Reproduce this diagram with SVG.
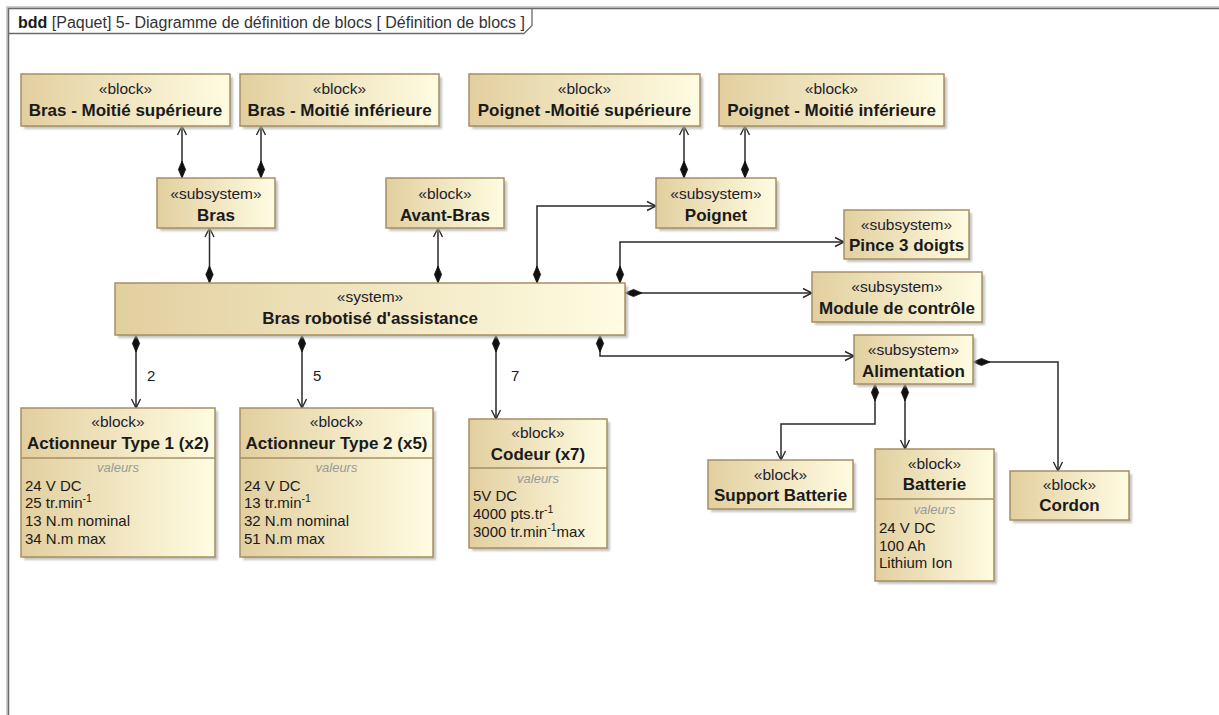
<svg xmlns="http://www.w3.org/2000/svg" width="1219" height="715" viewBox="0 0 1219 715">
<style>
text{font-family:"Liberation Sans",Arial,sans-serif;fill:#1a1a1a}
.st{font-size:15.5px;text-anchor:middle;fill:#1c1c2c}
.nm{font-size:17px;font-weight:bold;text-anchor:middle}
.vl{font-size:15px}
.vh{font-size:13px;font-style:italic;fill:#9a9a9a;text-anchor:middle}
.sup{font-size:10.5px}
.mul{font-size:15px}
.box{fill:url(#g);stroke:#a68f63;stroke-width:1.5}
.sh{fill:#b0b0b0;opacity:.75}
.div{stroke:#a68f63;stroke-width:1.5}
.c{fill:none;stroke:#2a2a2a;stroke-width:1.5;marker-start:url(#dia);marker-end:url(#arr)}
</style>
<defs>
<linearGradient id="g" x1="0" y1="0" x2="1" y2="0">
<stop offset="0" stop-color="#e2cf9f"/>
<stop offset="1" stop-color="#fffce2"/>
</linearGradient>
<filter id="blur" x="-10%" y="-10%" width="120%" height="120%"><feGaussianBlur stdDeviation="1.2"/></filter>
<marker id="dia" markerUnits="userSpaceOnUse" markerWidth="20" markerHeight="20" refX="0" refY="0" orient="auto" overflow="visible">
<path d="M0,0 L8.5,-3.6 L17,0 L8.5,3.6 Z" fill="#111" stroke="#111" stroke-width="0.8"/>
</marker>
<marker id="arr" markerUnits="userSpaceOnUse" markerWidth="20" markerHeight="20" refX="0" refY="0" orient="auto" overflow="visible">
<path d="M-9,-4.5 L0,0 L-9,4.5" fill="none" stroke="#2a2a2a" stroke-width="1.4"/>
</marker>
</defs>
<rect width="1219" height="715" fill="#fff"/>
<g id="frame">
<path d="M7,715 V7 H1219" fill="none" stroke="#cfcfcf" stroke-width="2"/>
<path d="M8.5,715 V8.5 H1219" fill="none" stroke="#6a6a6a" stroke-width="1.5"/>
<path d="M8.5,33.5 H524 L532,25.5 V8.5" fill="none" stroke="#6a6a6a" stroke-width="1.3"/>
<text x="18" y="28" style="font-size:16px"><tspan font-weight="bold">bdd</tspan> <tspan fill="#333">[Paquet] 5- Diagramme de définition de blocs [ Définition de blocs ]</tspan></text>
</g>
<g id="connectors">
<path class="c" d="M182,178 V126"/>
<path class="c" d="M261,178 V126"/>
<path class="c" d="M684,178 V126"/>
<path class="c" d="M745,178 V126"/>
<path class="c" d="M209.5,283 V228"/>
<path class="c" d="M438,283 V228"/>
<path class="c" d="M537,283 V206 H656"/>
<path class="c" d="M620,283 V242 H844"/>
<path class="c" d="M625,293 H812"/>
<path class="c" d="M136,335 V408"/>
<path class="c" d="M302,335 V408"/>
<path class="c" d="M496,335 V419"/>
<path class="c" d="M600,335 V356 H854"/>
<path class="c" d="M875,384 V424 H781 V460"/>
<path class="c" d="M905,384 V449"/>
<path class="c" d="M973,362 H1058 V471"/>
<text class="mul" x="147" y="381">2</text>
<text class="mul" x="313" y="381">5</text>
<text class="mul" x="511" y="381">7</text>
</g>
<g id="bras-sup">
<rect class="sh" x="24" y="77" width="209" height="52" filter="url(#blur)"/>
<rect class="box" x="21" y="74" width="209" height="52"/>
<text class="st" x="125.5" y="94">«block»</text>
<text class="nm" x="125.5" y="116">Bras - Moitié supérieure</text>
</g>
<g id="bras-inf">
<rect class="sh" x="243" y="77" width="199" height="52" filter="url(#blur)"/>
<rect class="box" x="240" y="74" width="199" height="52"/>
<text class="st" x="339.5" y="94">«block»</text>
<text class="nm" x="339.5" y="116">Bras - Moitié inférieure</text>
</g>
<g id="poignet-sup">
<rect class="sh" x="472" y="77" width="231" height="52" filter="url(#blur)"/>
<rect class="box" x="469" y="74" width="231" height="52"/>
<text class="st" x="584.5" y="94">«block»</text>
<text class="nm" x="584.5" y="116">Poignet -Moitié supérieure</text>
</g>
<g id="poignet-inf">
<rect class="sh" x="722" y="77" width="225" height="52" filter="url(#blur)"/>
<rect class="box" x="719" y="74" width="225" height="52"/>
<text class="st" x="831.5" y="94">«block»</text>
<text class="nm" x="831.5" y="116">Poignet - Moitié inférieure</text>
</g>
<g id="bras">
<rect class="sh" x="160" y="181" width="118" height="50" filter="url(#blur)"/>
<rect class="box" x="157" y="178" width="118" height="50"/>
<text class="st" x="216" y="199">«subsystem»</text>
<text class="nm" x="216" y="221">Bras</text>
</g>
<g id="avant-bras">
<rect class="sh" x="389" y="181" width="118" height="50" filter="url(#blur)"/>
<rect class="box" x="386" y="178" width="118" height="50"/>
<text class="st" x="445" y="199">«block»</text>
<text class="nm" x="445" y="221">Avant-Bras</text>
</g>
<g id="poignet">
<rect class="sh" x="659" y="181" width="120" height="50" filter="url(#blur)"/>
<rect class="box" x="656" y="178" width="120" height="50"/>
<text class="st" x="716" y="199">«subsystem»</text>
<text class="nm" x="716" y="221">Poignet</text>
</g>
<g id="pince">
<rect class="sh" x="847" y="213" width="125" height="49" filter="url(#blur)"/>
<rect class="box" x="844" y="210" width="125" height="49"/>
<text class="st" x="906.5" y="230">«subsystem»</text>
<text class="nm" x="906.5" y="251">Pince 3 doigts</text>
</g>
<g id="module">
<rect class="sh" x="815" y="275" width="170" height="50" filter="url(#blur)"/>
<rect class="box" x="812" y="272" width="170" height="50"/>
<text class="st" x="897" y="292">«subsystem»</text>
<text class="nm" x="897" y="314">Module de contrôle</text>
</g>
<g id="system">
<rect class="sh" x="118" y="286" width="510" height="52" filter="url(#blur)"/>
<rect class="box" x="115" y="283" width="510" height="52"/>
<text class="st" x="370" y="302">«system»</text>
<text class="nm" x="370" y="324">Bras robotisé d'assistance</text>
</g>
<g id="alimentation">
<rect class="sh" x="857" y="338" width="119" height="49" filter="url(#blur)"/>
<rect class="box" x="854" y="335" width="119" height="49"/>
<text class="st" x="913.5" y="355">«subsystem»</text>
<text class="nm" x="913.5" y="377">Alimentation</text>
</g>
<g id="actionneur1">
<rect class="sh" x="24" y="411" width="194" height="149" filter="url(#blur)"/>
<rect class="box" x="21" y="408" width="194" height="149"/>
<line class="div" x1="21" y1="458" x2="215" y2="458"/>
<text class="st" x="118" y="427">«block»</text>
<text class="nm" x="118" y="449">Actionneur Type 1 (x2)</text>
<text class="vh" x="118" y="472">valeurs</text>
<text class="vl" x="25" y="491">24 V DC</text>
<text class="vl" x="25" y="508">25 tr.min<tspan class="sup" dy="-6">-1</tspan></text>
<text class="vl" x="25" y="526">13 N.m nominal</text>
<text class="vl" x="25" y="544">34 N.m max</text>
</g>
<g id="actionneur2">
<rect class="sh" x="243" y="411" width="193" height="149" filter="url(#blur)"/>
<rect class="box" x="240" y="408" width="193" height="149"/>
<line class="div" x1="240" y1="458" x2="433" y2="458"/>
<text class="st" x="336.5" y="427">«block»</text>
<text class="nm" x="336.5" y="449">Actionneur Type 2 (x5)</text>
<text class="vh" x="336.5" y="472">valeurs</text>
<text class="vl" x="244" y="491">24 V DC</text>
<text class="vl" x="244" y="508">13 tr.min<tspan class="sup" dy="-6">-1</tspan></text>
<text class="vl" x="244" y="526">32 N.m nominal</text>
<text class="vl" x="244" y="544">51 N.m max</text>
</g>
<g id="codeur">
<rect class="sh" x="472" y="422" width="138" height="129" filter="url(#blur)"/>
<rect class="box" x="469" y="419" width="138" height="129"/>
<line class="div" x1="469" y1="468" x2="607" y2="468"/>
<text class="st" x="538" y="438">«block»</text>
<text class="nm" x="538" y="460">Codeur (x7)</text>
<text class="vh" x="538" y="483">valeurs</text>
<text class="vl" x="473" y="501">5V DC</text>
<text class="vl" x="473" y="519">4000 pts.tr<tspan class="sup" dy="-6">-1</tspan></text>
<text class="vl" x="473" y="537">3000 tr.min<tspan class="sup" dy="-6">-1</tspan><tspan dy="6">max</tspan></text>
</g>
<g id="support-batterie">
<rect class="sh" x="711" y="463" width="145" height="49" filter="url(#blur)"/>
<rect class="box" x="708" y="460" width="145" height="49"/>
<text class="st" x="780.5" y="480">«block»</text>
<text class="nm" x="780.5" y="501">Support Batterie</text>
</g>
<g id="batterie">
<rect class="sh" x="878" y="452" width="119" height="132" filter="url(#blur)"/>
<rect class="box" x="875" y="449" width="119" height="132"/>
<line class="div" x1="875" y1="499" x2="994" y2="499"/>
<text class="st" x="934.5" y="469">«block»</text>
<text class="nm" x="934.5" y="490">Batterie</text>
<text class="vh" x="934.5" y="514">valeurs</text>
<text class="vl" x="879" y="533">24 V DC</text>
<text class="vl" x="879" y="551">100 Ah</text>
<text class="vl" x="879" y="568">Lithium Ion</text>
</g>
<g id="cordon">
<rect class="sh" x="1013" y="474" width="119" height="49" filter="url(#blur)"/>
<rect class="box" x="1010" y="471" width="119" height="49"/>
<text class="st" x="1069.5" y="490">«block»</text>
<text class="nm" x="1069.5" y="511">Cordon</text>
</g>
</svg>
